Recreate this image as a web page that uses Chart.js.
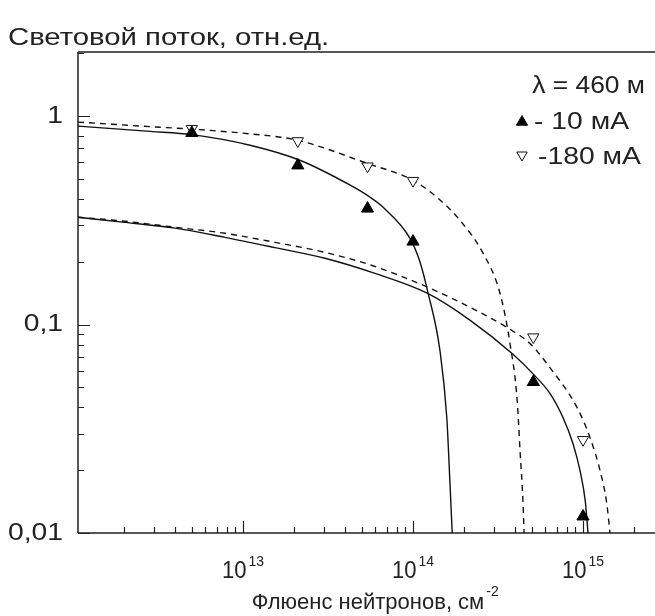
<!DOCTYPE html>
<html>
<head>
<meta charset="utf-8">
<script src="https://cdn.jsdelivr.net/npm/chart.js@4.4.1/dist/chart.umd.min.js"></script>
<style>
  html, body { margin: 0; padding: 0; background: #fff; }
</style>
</head>
<body>
<canvas id="myChart" width="655" height="616"></canvas>
<script>
// measured points: neutron fluence (cm^-2) vs light output (rel. units)
var pts10X  = [5e12, 2.1e13, 5.4e13, 1.0e14, 5.1e14, 1.0e15];
var pts10Y  = [0.83, 0.58, 0.36, 0.25, 0.053, 0.012];
var pts180X = [5e12, 2.1e13, 5.4e13, 1.0e14, 5.1e14, 1.0e15];
var pts180Y = [0.87, 0.76, 0.575, 0.49, 0.087, 0.028];

// fitted curves
var solidTopX = [1.07e12, 2.84e12, 5.0e12, 1.1e13, 2.16e13, 4.27e13, 5.59e13, 6.67e13, 9.6e13, 1.1e14, 1.22e14, 1.44e14, 1.58e14, 1.65e14, 1.70e14];
var solidTopY = [0.895, 0.845, 0.815, 0.725, 0.614, 0.466, 0.408, 0.365, 0.259, 0.199, 0.144, 0.075, 0.0357, 0.0172, 0.01];
var dashTopX  = [1.07e12, 2.84e12, 5.08e12, 1.1e13, 2.08e13, 5.35e13, 1.0e14, 1.38e14, 1.89e14, 2.58e14, 3.25e14, 3.72e14, 4.1e14, 4.26e14, 4.43e14, 4.5e14];
var dashTopY  = [0.936, 0.89, 0.865, 0.822, 0.767, 0.594, 0.492, 0.408, 0.316, 0.22, 0.141, 0.081, 0.043, 0.0248, 0.0143, 0.01];
var solidLowX = [1.07e12, 2.02e12, 3.98e12, 7.83e12, 1.54e13, 3.03e13, 5.97e13, 1.22e14, 2.16e14, 3.87e14, 5.08e14, 6.4e14, 7.63e14, 8.73e14, 9.6e14, 1.03e15, 1.07e15];
var solidLowY = [0.327, 0.309, 0.29, 0.262, 0.234, 0.208, 0.176, 0.141, 0.105, 0.072, 0.058, 0.0466, 0.0357, 0.0268, 0.0199, 0.0143, 0.01];
var dashLowX  = [1.07e12, 2.02e12, 3.98e12, 7.83e12, 1.54e13, 3.03e13, 5.74e13, 1.22e14, 2.16e14, 3.57e14, 4.88e14, 6.4e14, 9.22e14, 1.1e15, 1.26e15, 1.38e15, 1.44e15];
var dashLowY  = [0.327, 0.313, 0.293, 0.274, 0.248, 0.222, 0.192, 0.151, 0.121, 0.0968, 0.081, 0.062, 0.04, 0.0286, 0.0199, 0.0138, 0.01];

// axes
var xMin = 1.07e12, xMax = 2.65e15;
var yMin = 0.01, yMax = 2.03;
var xTickValues = [1e13, 1e14, 1e15];
var xTickExps = ['13', '14', '15'];
var yTickValues = [0.01, 0.1, 1];
var yTickLabels = ['0,01', '0,1', '1'];
var minorSteps = [1, 2, 3, 4, 5, 6, 7, 8, 9];

var yTitle = 'Световой поток, отн.ед.';
var xTitle = 'Флюенс нейтронов, см';
var legendTitle = 'λ = 460 м';
var legend10 = '- 10 мА';
var legend180 = '-180 мА';

function toXY(xs, ys) {
  return xs.map(function (x, i) { return { x: x, y: ys[i] }; });
}

function curve(xs, ys, dash) {
  return {
    type: 'line',
    data: toXY(xs, ys),
    borderColor: '#111',
    borderWidth: 1.4,
    borderDash: dash ? [6, 5] : [],
    pointRadius: 0,
    fill: false,
    cubicInterpolationMode: 'monotone'
  };
}

var FONT = '"Liberation Sans", Arial, sans-serif';

// text a bit wider than the font, like the scanned figure
function wideText(ctx, text, x, y, size, sx, align) {
  ctx.save();
  ctx.font = size + 'px ' + FONT;
  ctx.textAlign = align || 'left';
  ctx.translate(x, y);
  ctx.scale(sx, 1);
  ctx.fillText(text, 0, 0);
  ctx.restore();
}

function triangle(ctx, cx, cy, r, down, filled) {
  var s = down ? -1 : 1;
  ctx.beginPath();
  ctx.moveTo(cx, cy - s * r);
  ctx.lineTo(cx + r * 0.866, cy + s * r * 0.5);
  ctx.lineTo(cx - r * 0.866, cy + s * r * 0.5);
  ctx.closePath();
  if (filled) { ctx.fillStyle = '#000'; ctx.fill(); }
  ctx.strokeStyle = '#111';
  ctx.lineWidth = 1;
  ctx.stroke();
}

var framePlugin = {
  id: 'frame',
  beforeDatasetsDraw: function (chart) {
    var ctx = chart.ctx, a = chart.chartArea;
    var xs = chart.scales.x, ys = chart.scales.y;
    ctx.save();
    ctx.strokeStyle = '#222';
    ctx.lineWidth = 1.5;
    ctx.beginPath();
    ctx.moveTo(a.left, a.top); ctx.lineTo(a.right, a.top);
    ctx.moveTo(a.left, a.top); ctx.lineTo(a.left, a.bottom);
    ctx.moveTo(a.left, a.bottom); ctx.lineTo(a.right, a.bottom);
    ctx.stroke();

    // inward ticks
    ctx.lineWidth = 1.2;
    ctx.beginPath();
    for (var e = 11; e <= 16; e++) {
      minorSteps.forEach(function (m) {
        var v = m * Math.pow(10, e);
        if (v <= xMin || v >= xMax) return;
        var px = Math.round(xs.getPixelForValue(v)) + 0.5;
        var len = m === 1 ? 12 : 6;
        ctx.moveTo(px, a.bottom); ctx.lineTo(px, a.bottom - len);
      });
    }
    for (var e2 = -3; e2 <= 1; e2++) {
      minorSteps.forEach(function (m) {
        var v = m * Math.pow(10, e2);
        if (v < yMin * 0.999 || v >= yMax) return;
        var py = Math.round(ys.getPixelForValue(v)) + 0.5;
        var len = m === 1 ? 12 : 6;
        ctx.moveTo(a.left, py); ctx.lineTo(a.left + len, py);
      });
    }
    ctx.stroke();
    ctx.restore();
  },
  afterDraw: function (chart) {
    var ctx = chart.ctx, a = chart.chartArea;
    var xs = chart.scales.x, ys = chart.scales.y;
    ctx.save();
    ctx.fillStyle = '#222';

    // y tick labels
    ctx.textBaseline = 'middle';
    yTickValues.forEach(function (v, i) {
      wideText(ctx, yTickLabels[i], a.left - 15, ys.getPixelForValue(v), 24, 1.18, 'right');
    });

    // x tick labels with exponent
    ctx.textBaseline = 'alphabetic';
    xTickValues.forEach(function (v, i) {
      var px = xs.getPixelForValue(v);
      ctx.font = '24px ' + FONT;
      var w1 = ctx.measureText('10').width * 0.92;
      ctx.font = '14px ' + FONT;
      var w2 = ctx.measureText(xTickExps[i]).width;
      var x0 = px - (w1 + w2 + 2) / 2;
      wideText(ctx, '10', x0, 578, 24, 0.92, 'left');
      wideText(ctx, xTickExps[i], x0 + w1 + 2, 566, 14, 1, 'left');
    });

    // axis titles
    wideText(ctx, yTitle, 8, 45, 24, 1.22, 'left');
    ctx.font = '22px ' + FONT;
    var wt = ctx.measureText(xTitle).width;
    var tx = 368 - wt / 2;
    wideText(ctx, xTitle, tx, 609, 22, 1, 'left');
    wideText(ctx, '-2', tx + wt + 2, 596, 14, 1, 'left');

    // legend
    ctx.textBaseline = 'middle';
    wideText(ctx, legendTitle, 645, 86, 24, 1.1, 'right');
    wideText(ctx, legend10, 534, 122, 24, 1.18, 'left');
    wideText(ctx, legend180, 538, 157, 24, 1.18, 'left');
    triangle(ctx, 522, 122, 6.5, false, true);
    triangle(ctx, 522, 155, 6, true, false);
    ctx.restore();
  }
};

new Chart('myChart', {
  data: {
    datasets: [
      {
        type: 'scatter',
        data: toXY(pts10X, pts10Y),
        pointStyle: 'triangle',
        pointRadius: 7,
        pointBackgroundColor: '#000',
        pointBorderColor: '#000',
        pointBorderWidth: 1
      },
      {
        type: 'scatter',
        data: toXY(pts180X, pts180Y),
        pointStyle: 'triangle',
        rotation: 180,
        pointRadius: 6.5,
        pointBackgroundColor: '#fff',
        pointBorderColor: '#111',
        pointBorderWidth: 1
      },
      curve(solidTopX, solidTopY, false),
      curve(dashTopX, dashTopY, true),
      curve(solidLowX, solidLowY, false),
      curve(dashLowX, dashLowY, true)
    ]
  },
  options: {
    responsive: false,
    animation: false,
    devicePixelRatio: 1,
    layout: { autoPadding: false, padding: { top: 52, right: 0, left: 0, bottom: 0 } },
    plugins: { legend: { display: false }, tooltip: { enabled: false } },
    scales: {
      x: {
        type: 'logarithmic', min: xMin, max: xMax, bounds: 'data',
        ticks: { display: false }, grid: { display: false }, border: { display: false },
        afterFit: function (s) { s.height = 83; }
      },
      y: {
        type: 'logarithmic', min: yMin, max: yMax, bounds: 'data',
        ticks: { display: false }, grid: { display: false }, border: { display: false },
        afterFit: function (s) { s.width = 78; }
      }
    }
  },
  plugins: [framePlugin]
});
</script>
</body>
</html>
